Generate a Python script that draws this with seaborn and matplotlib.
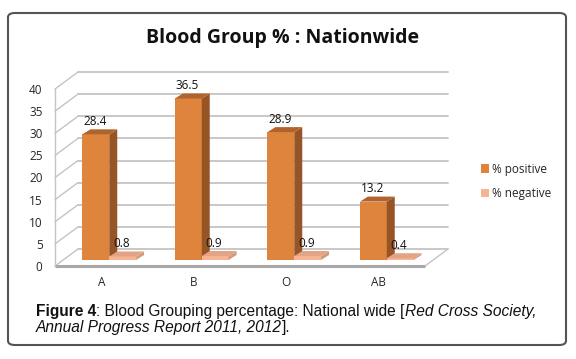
import numpy as np
import pandas as pd
import seaborn as sns
import matplotlib.pyplot as plt
from matplotlib.transforms import ScaledTranslation
from matplotlib.patches import Polygon, Patch, FancyBboxPatch, ConnectionPatch

# --- data ---
groups = ['A', 'B', 'O', 'AB']
pct_positive = [28.4, 36.5, 28.9, 13.2]
pct_negative = [0.8, 0.9, 0.9, 0.4]
series = ['% positive', '% negative']
yticks = [0, 5, 10, 15, 20, 25, 30, 35, 40]

df = pd.DataFrame({
    'group': groups * 2,
    'value': pct_positive + pct_negative,
    'sign': [series[0]] * len(groups) + [series[1]] * len(groups),
})

# face / side / top colours for the fake 3d look
face = {series[0]: '#DF843C', series[1]: '#F7B394'}
side = {series[0]: '#975526', series[1]: '#D39A7C'}
top = {series[0]: '#B0632C', series[1]: '#E3A384'}

sns.set_style('white')
plt.rcParams['font.family'] = ['Open Sans', 'DejaVu Sans']

W, H = 576, 359
fig = plt.figure(figsize=(W / 100, H / 100), dpi=100)
px = 1 / fig.dpi

ax = fig.add_axes([55 / W, (H - 266) / H, 370 / W, 177 / H])
ax.set_xlim(-0.5, len(groups) - 0.5)
ax.set_ylim(0, 40)

back = ax.transData + ScaledTranslation(23 * px, 17 * px, fig.dpi_scale_trans)
shift = ax.transData + ScaledTranslation(8 * px, 6 * px, fig.dpi_scale_trans)

# back wall gridlines + left wall diagonals
x0, x1 = ax.get_xlim()
for t in yticks:
    ax.plot([x0, x1], [t, t], color='#C4C4C4', lw=1.3, transform=back,
            clip_on=False, zorder=1)
    ax.add_artist(ConnectionPatch((x0, t), (x0, t), coordsA=ax.transData,
                                  coordsB=back, color='#C4C4C4', lw=1.0,
                                  zorder=1, clip_on=False))
# floor right edge
ax.add_artist(ConnectionPatch((x1, 0), (x1, 0), coordsA=ax.transData,
                              coordsB=back, color='#C4C4C4', lw=1.0,
                              zorder=1, clip_on=False))

sns.barplot(data=df, x='group', y='value', hue='sign', hue_order=series,
            palette=[face[s] for s in series], width=0.58, saturation=1,
            legend=False, ax=ax, zorder=3)

# depth of the bars, in data units
ddx = 8 / (ax.bbox.width / (x1 - x0))
ddy = 5 / (ax.bbox.height / 40)

for k, (cont, s) in enumerate(zip(ax.containers, series)):
    for bar in cont:
        bx, bw, bh = bar.get_x(), bar.get_width(), bar.get_height()
        z = 3 + k
        bar.set_transform(shift)
        bar.set_edgecolor('none')
        bar.set_zorder(z)
        ax.add_patch(Polygon([(bx + bw, 0), (bx + bw + ddx, ddy),
                              (bx + bw + ddx, bh + ddy), (bx + bw, bh)],
                             closed=True, fc=side[s], ec='none',
                             transform=shift, zorder=z, clip_on=False))
        ax.add_patch(Polygon([(bx, bh), (bx + bw, bh), (bx + bw + ddx, bh + ddy),
                              (bx + ddx, bh + ddy)],
                             closed=True, fc=top[s], ec='none',
                             transform=shift, zorder=z, clip_on=False))
        ax.annotate(f'{bh:.1f}', xy=(bx + bw / 2, bh), xytext=(7, 19),
                    textcoords='offset pixels', ha='center', va='center',
                    fontsize=8.5, color='#111111', zorder=6)

# front floor edge and left axis
ax.plot([x0, x1], [0, 0], color='#A8A8A8', lw=2.2, zorder=2, clip_on=False,
        solid_capstyle='butt')
sns.despine(ax=ax, top=True, right=True, bottom=True)
ax.spines['left'].set_color('#C4C4C4')
ax.spines['left'].set_linewidth(1.0)

ax.set_yticks(yticks)
ax.tick_params(axis='y', length=0, pad=9, labelsize=8.5)
ax.tick_params(axis='x', length=0, pad=7, labelsize=8.5)
ax.set_xlabel('')
ax.set_ylabel('')

# legend
handles = [Patch(fc=face[s], ec='none') for s in series]
fig.legend(handles, series, loc='upper left',
           bbox_to_anchor=(470 / W, (H - 152) / H), frameon=False,
           fontsize=8.5, handlelength=0.7, handleheight=0.7,
           handletextpad=0.25, labelspacing=0.95)

fig.text(283 / W, (H - 38) / H, 'Blood Group % : Nationwide', ha='center',
         va='center', fontsize=14, fontweight='bold', color='#111111')

# outer rounded frame
fig.patches.append(FancyBboxPatch((8 / W, (H - 345) / H), 558 / W, 332 / H,
                                  boxstyle='round,pad=0,rounding_size=0.012',
                                  transform=fig.transFigure, fc='none',
                                  ec='#555555', lw=1.5))

# caption, pieces chained so the styles run on
cap = dict(fontsize=11.2, family='Liberation Sans', color='#111111')
prev = fig.text(36 / W, (H - 316) / H, 'Figure 4', fontweight='bold',
                va='baseline', **cap)
for txt, style in [(': Blood Grouping percentage: National wide [', 'normal'),
                   ('Red Cross Society,', 'italic')]:
    prev = ax.annotate(txt, xy=(1, 0), xycoords=prev, va='bottom',
                       ha='left', fontstyle=style, annotation_clip=False, **cap)
t2 = fig.text(36 / W, (H - 332) / H, 'Annual Progress Report 2011, 2012',
              fontstyle='italic', va='baseline', **cap)
ax.annotate('].', xy=(1, 0), xycoords=t2, va='bottom', ha='left',
            annotation_clip=False, **cap)

fig.savefig('out.png', dpi=100)
